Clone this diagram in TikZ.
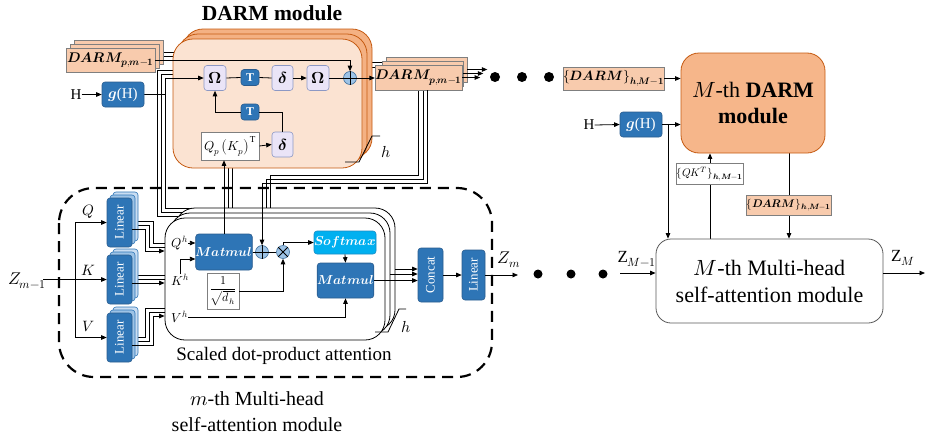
\documentclass[tikz,border=0pt]{standalone}
\usepackage{graphicx}
\usepackage{fontspec}
\usepackage{unicode-math}
\setmainfont{Liberation Serif}
\setmathfont{Latin Modern Math}
\usetikzlibrary{arrows.meta,calc}
\pgfdeclarelayer{bg}
\pgfsetlayers{bg,main}
\definecolor{blueM}{HTML}{2E75B6}
\definecolor{blueB}{HTML}{2A5C8E}
\definecolor{blueL1}{HTML}{9DC3E6}
\definecolor{blueL2}{HTML}{C9DDF2}
\definecolor{lavF}{HTML}{EAE4F7}
\definecolor{lavB}{HTML}{8C98C4}
\definecolor{peachF}{HTML}{F8CBAD}
\definecolor{grayB}{HTML}{7F7F7F}
\definecolor{darkB}{HTML}{595959}
\definecolor{modFront}{HTML}{FBE3D2}
\definecolor{modBack}{HTML}{F4B183}
\definecolor{orangeB}{HTML}{C55A11}
\definecolor{dmFill}{HTML}{F6B68A}
\definecolor{circF}{HTML}{9DC3E6}
\definecolor{circB}{HTML}{41719C}
\definecolor{cyanF}{HTML}{00B0F0}
\definecolor{cyanB}{HTML}{1A8CC4}
\newcommand\pxsize[1]{\fontsize{#1}{#1}\selectfont}

\begin{document}
\begin{tikzpicture}[x=1pt,y=-1pt,
  ln/.style={line width=0.8pt, draw=black},
  arr/.style={ln, -{Triangle[length=5.5pt,width=4.5pt]}},
  lab/.style={inner sep=0pt},
  bluebox/.style={draw=blueB, fill=blueM, line width=0.6pt, rounded corners=3pt, text=white, inner sep=0pt},
  lavbox/.style={draw=lavB, fill=lavF, line width=0.6pt, rounded corners=3pt, inner sep=0pt,
                 minimum width=22pt, minimum height=25pt, font=\pxsize{16}},
  tbox/.style={bluebox, minimum width=18pt, minimum height=16pt, font=\pxsize{12}\bfseries},
  peachbox/.style={draw=grayB, fill=peachF, line width=0.6pt, inner sep=0pt},
  wbox/.style={draw=grayB, fill=white, line width=0.6pt, inner sep=0pt},
  instack/.style={peachbox, minimum width=89pt, minimum height=24pt},
  outstack/.style={peachbox, minimum width=81pt, minimum height=25pt},
  modF/.style={draw=orangeB, fill=modFront, line width=0.8pt, rounded corners=20pt,
               minimum width=189pt, minimum height=129pt, inner sep=0pt},
  modB/.style={modF, fill=modBack},
  attL/.style={draw=black, fill=white, line width=0.8pt, rounded corners=20pt,
               minimum width=220pt, minimum height=122pt, inner sep=0pt},
  linF/.style={bluebox, minimum width=25pt, minimum height=49pt, font=\pxsize{13}},
  linB1/.style={linF, draw=blueM, fill=blueL1},
  linB2/.style={linF, draw=blueM, fill=blueL2},
  circ/.style={circle, draw=circB, fill=circF, line width=0.6pt, minimum size=13pt, inner sep=0pt},
  mhframe/.style={draw, line width=2.2pt, dash pattern=on 11pt off 7pt, rounded corners=35pt},
  dot/.style={fill=black},
]
\useasboundingbox (0,0) rectangle (926,442);

% ---------- m-th multi-head self-attention frame ----------
\draw[mhframe] (59,188) rectangle (492,377);

% ---------- DARM module (h stacked heads) ----------
\node[modB] (dmB2) at (277.5,93.5) {};
\node[modB] (dmB1) at (272.5,98.5) {};
\node[modF] (dmF)  at (267.5,103.5) {};
\node[lab, font=\pxsize{21.5}\bfseries] (dtitle) at (272,13) {DARM module};

% incoming DARM maps of block m-1
\node[instack] (din2) at (118.5,52) {};
\node[instack] (din1) at (114.5,56) {};
\node[instack, font=\pxsize{14}] (din0) at (110.5,60) {$\symbfit{DARM}_{\symbfit{p,m}-\symbf{1}}$};

% outgoing DARM maps
\node[outstack] (dout2) at (426.5,69.5) {};
\node[outstack] (dout1) at (422.5,73.5) {};
\node[outstack, font=\pxsize{14}] (dout0) at (418.5,77.5) {$\symbfit{DARM}_{\symbfit{p,m}-\symbf{1}}$};

% structural input g(H)
\node[lab, font=\pxsize{15}] (H1) at (76,94.5) {H};
\node[bluebox, minimum width=42pt, minimum height=25pt, font=\pxsize{15}] (gH1) at (123,94.5) {$\symbfit{g}$(H)};

% inner operations of the DARM module
\node[lavbox] (om1) at (215,78) {$\symbf{\Omega}$};
\node[tbox] (t1) at (250,77.5) {T};
\node[lavbox, minimum width=21pt] (d1) at (282.5,78) {$\symbfit{\delta}$};
\node[lavbox] (om2) at (318,78) {$\symbf{\Omega}$};
\node[circ] (p1) at (350,78) {};
\node[tbox] (t2) at (250,112) {T};
\node[lavbox, minimum width=21pt] (d2) at (282.5,144.5) {$\symbfit{\delta}$};
\node[wbox, minimum width=58pt, minimum height=28pt, font=\pxsize{13}] (qp) at (230,146) {$Q_p\left(K_p\right)^{\mathrm{T}}$};

% ---------- scaled dot-product attention (h stacked heads) ----------
\node[attL] (aB2) at (285,269) {};
\node[attL] (aB1) at (280,274) {};
\node[attL] (aF)  at (275,279) {};

% input projections
\node[linB2] (lq2) at (125.5,216.5) {};
\node[linB1] (lq1) at (122.5,219.5) {};
\node[linF]  (lq0) at (119.5,222.5) {\rotatebox{90}{Linear}};
\node[linB2] (lk2) at (125.5,273.5) {};
\node[linB1] (lk1) at (122.5,276.5) {};
\node[linF]  (lk0) at (119.5,279.5) {\rotatebox{90}{Linear}};
\node[linB2] (lv2) at (125.5,331.5) {};
\node[linB1] (lv1) at (122.5,334.5) {};
\node[linF]  (lv0) at (119.5,337.5) {\rotatebox{90}{Linear}};

\node[lab, font=\pxsize{17}] (zin) at (27,281) {$Z_{m-1}$};
\coordinate (zsrc) at (43,279.5);
\coordinate (zbr) at (75,279.5);
\node[lab, font=\pxsize{15}] (lQ) at (88,212) {$Q$};
\node[lab, font=\pxsize{15}] (lK) at (88,270) {$K$};
\node[lab, font=\pxsize{15}] (lV) at (88,327) {$V$};

% attention internals
\node[lab, font=\pxsize{13}] (qh) at (180,243) {$Q^h$};
\node[lab, font=\pxsize{13}] (kh) at (180,280) {$K^h$};
\node[lab, font=\pxsize{13}] (vh) at (180,317) {$V^h$};
\node[bluebox, minimum width=52pt, minimum height=36pt, font=\pxsize{13}] (mm1) at (224,252) {$\symbfit{Matmul}$};
\node[circ] (p2) at (262,252) {};
\node[circ] (ox) at (283,252) {};
\node[wbox, minimum width=32pt, minimum height=36pt, font=\pxsize{12}] (sq) at (223,291) {$\dfrac{1}{\sqrt{d_h}}$};
\node[bluebox, draw=cyanB, fill=cyanF, minimum width=62pt, minimum height=23pt, font=\pxsize{13}] (sm) at (345,242.5) {$\symbfit{Softmax}$};
\node[bluebox, minimum width=53pt, minimum height=35pt, font=\pxsize{13}] (mm2) at (345.5,280.5) {$\symbfit{Matmul}$};
\node[lab, font=\pxsize{19}] (sdpa) at (284,356) {Scaled dot-product attention};

% output projection
\node[bluebox, minimum width=25pt, minimum height=54pt, font=\pxsize{13}] (cc) at (430.5,275) {\rotatebox{90}{Concat}};
\node[bluebox, minimum width=23pt, minimum height=50pt, font=\pxsize{13}] (lo) at (473.5,275) {\rotatebox{90}{Linear}};
\coordinate (zmEnd) at (518,275);
\node[lab, font=\pxsize{17}] (zm) at (509,260) {$Z_m$};
\node[lab, font=\pxsize{20}, align=center] (mth) at (257,412) {$m$-th Multi-head\\[6pt]self-attention module};

% ---------- M-th block ----------
\node[peachbox, minimum width=97pt, minimum height=23pt, font=\pxsize{13.5}] (dbx1) at (613.5,78.5) {$\{\symbfit{DARM}\}_{\symbfit{h,M}-\symbf{1}}$};
\node[draw=orangeB, fill=dmFill, line width=0.8pt, rounded corners=18pt, minimum width=144pt, minimum height=100pt,
      inner sep=0pt, align=center, font=\pxsize{22}] (DM) at (753,103) {$M$-th \textbf{DARM}\\[4pt]\textbf{module}};
\node[lab, font=\pxsize{15}] (H2) at (589,125) {H};
\node[bluebox, minimum width=42pt, minimum height=25pt, font=\pxsize{15}] (gH2) at (641,124.5) {$\symbfit{g}$(H)};
\coordinate (gsp) at (668,124.5);
\node[wbox, minimum width=66pt, minimum height=21pt, font=\pxsize{11}] (qk) at (710,174) {$\{QK^{T}\}_{\symbfit{h,M}-\symbf{1}}$};
\node[peachbox, minimum width=76pt, minimum height=20pt, font=\pxsize{11}] (dbx2) at (789,205) {$\{\symbfit{DARM}\}_{\symbfit{h,M}-\symbf{1}}$};
\node[draw=darkB, fill=white, line width=0.8pt, rounded corners=15pt, minimum width=227pt, minimum height=84pt,
      inner sep=0pt, align=center, font=\pxsize{22}] (attM) at (769.5,281) {$M$-th Multi-head\\[5pt]self-attention module};
\coordinate (zM1src) at (620,273);
\node[lab, font=\pxsize{17}] (zM1) at (637,259) {$\mathrm{Z}_{M-1}$};
\coordinate (zMEnd) at (925,273);
\node[lab, font=\pxsize{17}] (zMl) at (903,258) {$\mathrm{Z}_{M}$};

% ---------- wiring hidden behind the stacked layers ----------
\begin{pgfonlayer}{bg}
  % g(H) bundle: to every DARM head and every attention head
  \draw[ln] (gH1.east) -- (165,94.5);
  \draw[ln] (192,70) -- (157,70) -- (157,216) -- (190,216);
  \draw[ln] (192,74) -- (161,74) -- (161,212) -- (192,212);
  \draw[ln] (165,78) -- (165,208) -- (196,208);
  % DARM maps of the other heads
  \draw[ln] (din2.east) -- ++(35,0);
  \draw[ln] (din1.east) -- ++(35,0);
  \draw[ln] (355,62) -- (392,62);
  \draw[ln] (355,67) -- (388,67);
  % DARM feedback to the other attention heads
  \draw[ln] ([xshift=4.5pt]dout0.south) |- (266,179) -- (266,228);
  \draw[ln] (dout0.south) |- (270,175) -- (270,228);
  % score maps of the other heads
  \draw[ln] (228,228) -- (228,160);
  \draw[ln] (232,228) -- (232,160);
  % projections of the other heads
  \draw[ln] (lq1.east |- 0,225) -- (149,225) -- (149,247) -- (180,247);
  \draw[ln] (lq2.east |- 0,221) -- (153,221) -- (153,243) -- (185,243);
  \draw[ln] (lk1.east |- 0,279) -- (180,279);
  \draw[ln] (lk2.east |- 0,275) -- (185,275);
  \draw[ln] (lv1.east |- 0,341) -- (149,341) -- (149,312) -- (180,312);
  \draw[ln] (lv2.east |- 0,337) -- (145,337) -- (145,308) -- (185,308);
  % M-th block vertical links
  \draw[arr] (attM.north -| qk.south) -- (DM.south -| qk.south);
  \draw[arr] (DM.south -| dbx2.north) -- (attM.north -| dbx2.north);
\end{pgfonlayer}

% ---------- connectors ----------
% DARM module
\draw[arr] (H1.east) -- (gH1.west);
\draw[arr] (165,78) -- (om1.west);
\draw[arr] (din0.east) -| (p1.north);
\draw[ln] (om1.east) -- (t1.west);
\draw[ln] (t1.east) -- (d1.west);
\draw[arr] (d1.east) -- (om2.west);
\draw[ln] (om2.east) -- (p1.west);
\draw[ln] (p1.north) -- (p1.south) (p1.west) -- (p1.east);
\draw[arr] (p1.east) -- (p1.east -| dout0.west);
\draw[arr] (qp.east) -- (d2.west);
\draw[ln] (d2.north) |- (t2.east);
\draw[arr] (t2.west) -| (om1.south);
\draw[ln] (345,162) -- (359,162) -- (372,136) -- (380,136);
\node[lab, font=\pxsize{16}] (hD) at (386,152) {$h$};
\draw[arr] (dout2.east) -- ++(20,0);
\draw[arr] (dout1.east) -- ++(20,0);
\draw[arr] (dout0.east) -- ++(18,0);
\fill[dot] (495,77) circle (5);
\fill[dot] (522,77) circle (5);
\fill[dot] (549,77) circle (5);

% feedback of DARM into the attention and scores into DARM
\draw[arr] ([xshift=8.5pt]dout0.south) |- (p2.north |- 0,183) -- (p2.north);
\draw[arr] (mm1.north) -- (mm1.north |- qp.south);

% input projections
\draw[ln] (zsrc) -- (zbr);
\draw[arr] (zbr) -- (zbr -| lk0.west);
\draw[arr] (zbr) |- (lq0.west);
\draw[arr] (zbr) |- (lv0.west);
\draw[arr] (lq0.east |- 0,229) -- (145,229) -- (145,251) -- (aF.west |- 0,251);
\draw[arr] (lk0.east |- 0,283) -- (aF.west |- 0,283);
\draw[arr] (lv0.east |- 0,345) -- (153,345) -- (153,316) -- (aF.west |- 0,316);

% attention internals
\draw[arr] (qh.east) -- (qh.east -| mm1.west);
\draw[arr] (kh.north) |- ([yshift=-7pt]mm1.west);
\draw[ln] (mm1.east) -- (p2.west);
\draw[ln] (p2.north) -- (p2.south) (p2.west) -- (p2.east);
\draw[ln] (p2.east) -- (ox.west);
\draw[ln] (ox.north east) -- (ox.south west) (ox.north west) -- (ox.south east);
\draw[arr] (sq.east) -| (ox.south);
\draw[arr] (ox.north) |- (sm.west);
\draw[arr] (sm.south) -- (mm2.north);
\draw[arr] (vh.east) -| (mm2.south);
\draw[ln] (375,332) -- (388,332) -- (399,309) -- (406,309);
\node[lab, font=\pxsize{16}] (hA) at (406,327) {$h$};

% head concatenation and output
\draw[arr] (aB2.east |- 0,269) -- (cc.west |- 0,269);
\draw[arr] (aB1.east |- 0,274) -- (cc.west |- 0,274);
\draw[arr] (mm2.east) -- (mm2.east -| cc.west);
\draw[arr] (cc.east) -- (lo.west);
\draw[arr] (lo.east) -- (zmEnd);
\fill[dot] (538,274) circle (4.5);
\fill[dot] (571,274) circle (4.5);
\fill[dot] (603,274) circle (4.5);

% M-th block
\draw[arr] (dbx1.east) -- (dbx1.east -| DM.west);
\draw[arr] (H2.east) -- (gH2.west);
\draw[arr] (gH2.east) -- (gH2.east -| DM.west);
\draw[arr] (gsp) -- (gsp |- attM.north);
\draw[arr] (zM1src) -- (zM1src -| attM.west);
\draw[arr] (attM.east |- zMEnd) -- (zMEnd);
\end{tikzpicture}
\end{document}
